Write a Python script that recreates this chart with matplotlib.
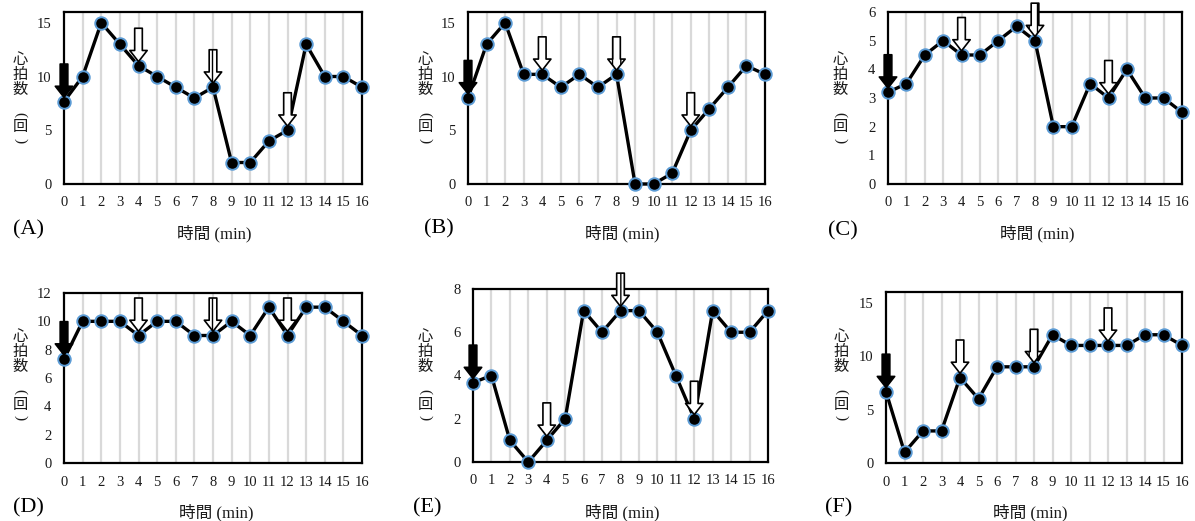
import matplotlib
matplotlib.use('Agg')
import matplotlib.pyplot as plt

W, H = 1195, 521

minutes = list(range(17))
panel_labels = ['(A)', '(B)', '(C)', '(D)', '(E)', '(F)']
series_A = [7.67, 10, 15, 13, 11, 10, 9, 8, 9, 2, 2, 4, 5, 13, 10, 10, 9]
series_B = [8, 13, 15, 10.2, 10.2, 9, 10.2, 9, 10.2, 0, 0, 1, 5, 7, 9, 11, 10.2]
series_C = [3.2, 3.5, 4.5, 5, 4.5, 4.5, 5, 5.5, 5, 2, 2, 3.5, 3, 4, 3, 3, 2.5]
series_D = [7.33, 10, 10, 10, 9, 10, 10, 9, 9, 10, 9, 11, 9, 11, 11, 10, 9]
series_E = [3.67, 4, 1, 0, 1, 2, 7, 6, 7, 7, 6, 4, 2, 7, 6, 6, 7]
series_F = [6.67, 1, 3, 3, 8, 6, 9, 9, 9, 12, 11, 11, 11, 11, 12, 12, 11]
y_max = [16, 16, 6, 12, 8, 16]
y_ticks = [[0, 5, 10, 15], [0, 5, 10, 15], [0, 1, 2, 3, 4, 5, 6],
           [0, 2, 4, 6, 8, 10, 12], [0, 2, 4, 6, 8], [0, 5, 10, 15]]
arrow_minutes = [0, 4, 8, 12]
arrow_kinds = ['black', 'white', 'mixed', 'white']
x_title = '時間 (min)'
# vertical y title pieces: (text, rotation, offset from top in px)
y_title_parts = [('心\n拍\n数', 0, 14.5), ('(', -90, 55), ('回', 0, 67), (')', -90, 81)]

all_series = [series_A, series_B, series_C, series_D, series_E, series_F]

# layout in pixels (left, top, right, bottom)
boxes = [(64, 12, 362, 184), (468, 12, 765, 184), (888, 12, 1182, 184),
         (64, 293, 362, 463), (473, 289, 768, 462), (886, 292, 1182, 463)]
label_pos = [(28, 230), (439, 229), (843, 231), (28, 508), (427, 508), (839, 508)]
xtitle_pos = [(214, 234), (622, 234), (1037, 234), (216, 513), (622, 513), (1030, 513)]
ytitle_pos = [(20, 60), (425, 60), (840, 60), (20, 337), (425, 337), (841, 337)]

plt.rcParams['font.family'] = ['Liberation Serif', 'Noto Sans CJK JP']

fig = plt.figure(figsize=(W / 100, H / 100), dpi=100)

def fx(x):
    return x / W

def fy(y):
    return 1 - y / H

text_color = '#1a1a1a'

for i, vals in enumerate(all_series):
    l, t, r, b = boxes[i]
    ax = fig.add_axes([fx(l), fy(b), (r - l) / W, (b - t) / H])
    ax.set_xlim(0, 16)
    ax.set_ylim(0, y_max[i])
    ax.set_xticks(minutes)
    ax.set_yticks(y_ticks[i])
    ax.tick_params(length=0, pad=9, labelsize=10.5, colors=text_color)
    for s in ax.spines.values():
        s.set_linewidth(1.6)
        s.set_color('black')
    for m in minutes[1:-1]:
        ax.axvline(m, color='#d9d9d9', lw=1.6, zorder=0)
    ax.plot(minutes, vals, color='black', lw=2.4, marker='o', markersize=9,
            markerfacecolor='black', markeredgecolor='#5b9bd5',
            markeredgewidth=1.4, zorder=3, clip_on=False)
    for m, kind in zip(arrow_minutes, arrow_kinds):
        fc = 'black' if kind == 'black' else 'white'
        ann = ax.annotate('', xy=(m, vals[m]), xycoords='data',
                          xytext=(0, 27), textcoords='offset points',
                          annotation_clip=False,
                          arrowprops=dict(arrowstyle='simple,head_length=8,head_width=12.5,tail_width=5.5',
                                          mutation_scale=1, fc=fc, ec='black', lw=1.2,
                                          shrinkA=0, shrinkB=3),
                          zorder=5)
        if kind == 'mixed':
            ann.arrow_patch.set_hatch('||')
    fig.text(fx(label_pos[i][0]), fy(label_pos[i][1]), panel_labels[i],
             fontsize=16, ha='center', va='center', color='black')
    fig.text(fx(xtitle_pos[i][0]), fy(xtitle_pos[i][1]), x_title,
             fontsize=12, ha='center', va='center', color=text_color)
    x0, y0 = ytitle_pos[i]
    for txt, rot, off in y_title_parts:
        if rot == 0:
            fig.text(fx(x0), fy(y0 + off), txt, fontsize=11,
                     family='Noto Sans CJK JP', ha='center', va='center',
                     linespacing=0.86, multialignment='center',
                     color=text_color)
        else:
            fig.text(fx(x0), fy(y0 + off), txt, fontsize=11, rotation=rot,
                     family='Liberation Serif', ha='center', va='center',
                     color=text_color)

fig.savefig('out.png', dpi=100)
